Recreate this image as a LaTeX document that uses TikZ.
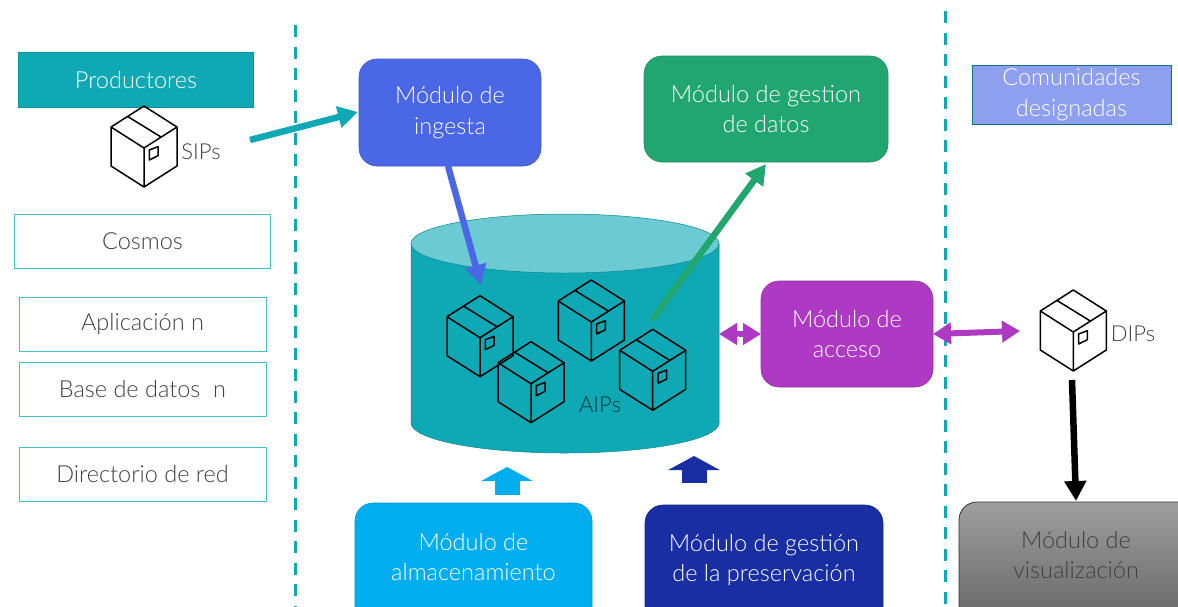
\documentclass[tikz,border=0pt]{standalone}
\usepackage{fontspec}
\setmainfont{Lato}[UprightFont=* Light]
\usetikzlibrary{arrows.meta}
\definecolor{teal1}{HTML}{0EA9B5}
\definecolor{teal2}{HTML}{6CCAD3}
\definecolor{teal3}{HTML}{3FC1CE}
\definecolor{ingesta}{HTML}{4A67E5}
\definecolor{gdatos}{HTML}{22A66F}
\definecolor{acceso}{HTML}{AE3AC4}
\definecolor{almac}{HTML}{00AEEF}
\definecolor{gpres}{HTML}{1A2EA3}
\definecolor{comun}{HTML}{8F9FF0}
\definecolor{txt}{HTML}{404040}
\tikzset{
  x=1pt,y=-1pt,
  base/.style={inner sep=0pt,outer sep=0pt,align=center,font=\fontsize{23.5}{30.5}\selectfont},
  outbox/.style={base,draw=teal3,line width=1pt,text=txt,minimum height=54pt},
  modbox/.style={base,rounded corners=18pt,text=white,draw=#1!85!black,fill=#1,line width=.6pt},
  fat/.style={line width=6.5pt,-{Triangle[length=20pt,width=21pt]},shorten >=0pt},
  purple2/.style={acceso,line width=6pt,{Triangle[length=18pt,width=21pt]}-{Triangle[length=18pt,width=21pt]}},
  uparrow/.style={line width=25pt,-{Triangle[length=14pt,width=51pt]}},
  sep/.style={teal1,line width=3pt,dash pattern=on 12pt off 9.5pt},
  cajon/.pic={
    \draw[line width=1.5pt,line join=round,black]
      (0,0) -- (33,21) -- (33,60) -- (0,81) -- (-33,60) -- (-33,21) -- cycle
      (-33,21) -- (0,42) -- (33,21) (0,42) -- (0,81)
      (-16,10.7) -- (17,31)
      (5.3,44) -- (14,40.7) -- (14,49.7) -- (5.3,54) -- cycle;
  }
}
\begin{document}
\begin{tikzpicture}
\path[use as bounding box,clip] (0,0) rectangle (1178,606);
\fill[white] (0,0) rectangle (1178,606);
% separators
\coordinate (s1a) at (295,25); \coordinate (s1b) at (295,606);
\coordinate (s2a) at (945,11); \coordinate (s2b) at (945,606);
\draw[sep] (s1a) -- (s1b);
\draw[sep] (s2a) -- (s2b);
% cylinder
\fill[teal1,draw=teal1!80!black,line width=.5pt] (411,243.5) -- (411,423)
  arc[start angle=180,end angle=360,x radius=154pt,y radius=30pt] -- (719,243.5) -- cycle;
\filldraw[fill=teal2,draw=teal1!80!black,line width=.5pt] (565,243.5) ellipse[x radius=154pt,y radius=29.5pt];
% left column
\node[base,fill=teal1,draw=teal1!85!black,line width=.8pt,text=white,minimum width=234.5pt,minimum height=54.5pt] (prod) at (136,80) {Productores};
\node[outbox,minimum width=256pt] (cosmos) at (142.5,241) {Cosmos};
\node[outbox,minimum width=247pt] (apli) at (142.5,324.5) {Aplicación n};
\node[outbox,minimum width=247pt] (bd) at (142.5,389.5) {Base de datos\ \ n};
\node[outbox,minimum width=247pt] (dir) at (142.5,474) {Directorio de red};
\node[base,fill=comun,draw=teal1!70!black,line width=.6pt,text=white,minimum width=199pt,minimum height=59pt] (com) at (1071.5,94.5) {Comunidades\\designadas};
% modules
\node[modbox=ingesta,minimum width=182pt,minimum height=107pt] (ing) at (450,112.5) {Módulo de\\ingesta};
\node[modbox=gdatos,minimum width=244pt,minimum height=106pt] (gd) at (766,109) {Módulo de gestion\\de datos};
\node[modbox=acceso,minimum width=172pt,minimum height=106pt] (acc) at (847,334) {Módulo de\\acceso};
\node[modbox=almac,minimum width=237pt,minimum height=132pt] (alm) at (473.5,569) {};
\node[base,text=white] (almt) at (473.5,557) {Módulo de\\almacenamiento};
\node[modbox=gpres,minimum width=238pt,minimum height=132pt] (gp) at (764,571) {};
\node[base,text=white] (gpt) at (764,560) {Módulo de gestión\\de la preservación};
\node[base,rounded corners=18pt,draw=black!80,line width=.8pt,top color=black!38,bottom color=black!62,minimum width=240pt,minimum height=132pt] (vis) at (1079,568) {};
\node[base,text=txt] (vist) at (1076,555) {Módulo de\\visualización};
% boxes
\pic at (144,106) {cajon};
\pic at (480,295.7) {cajon};
\pic at (531,341.7) {cajon};
\pic at (591.3,280) {cajon};
\pic at (652.7,329.3) {cajon};
\pic at (1073.3,290) {cajon};
\node[base,text=txt,font=\fontsize{22}{26}\selectfont] (sip) at (201,152) {SIPs};
\node[base,text=txt,font=\fontsize{22}{26}\selectfont] (dip) at (1133,334) {DIPs};
\node[base,text=black!70!teal1,font=\fontsize{22}{26}\selectfont] (aip) at (600,405) {AIPs};
% connectors
\coordinate (c1) at (250,140);
\coordinate (c2) at (448,166);
\coordinate (c3) at (481,285);
\coordinate (c4) at (652,320);
\coordinate (c5) at (766,164);
\coordinate (c6) at (1020,331);
\coordinate (c7) at (1072,380);
\coordinate (c8) at (1076,501);
\coordinate (c9) at (507,494.5);
\coordinate (c10) at (507,467);
\coordinate (c11) at (694,483);
\coordinate (c12) at (694,456);
\coordinate (c13) at (719,334);
\coordinate (c14) at (738.8,324);
\coordinate (c15) at (738.8,344);
\draw[fat,teal1] (c1) -- (358,112);
\draw[fat,ingesta] (c2) -- (c3);
\draw[fat,gdatos] (c4) -- (c5);
\draw[purple2] (c13) -- (acc.west);
\draw[white,line width=1.2pt,dash pattern=on 7pt off 5pt] (c14) -- (c15);
\draw[purple2] (acc.east) -- (c6);
\draw[fat,black] (c7) -- (c8);
\draw[uparrow,almac] (c9) -- (c10);
\draw[uparrow,gpres] (c11) -- (c12);
\end{tikzpicture}
\end{document}
